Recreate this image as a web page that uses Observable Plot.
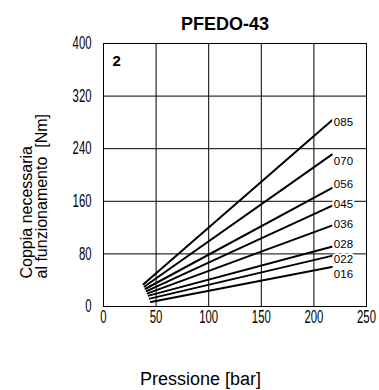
<!DOCTYPE html>
<html>
<head>
<meta charset="utf-8">
<script src="https://cdn.jsdelivr.net/npm/d3@7"></script>
<script src="https://cdn.jsdelivr.net/npm/@observablehq/plot@0.6"></script>
<style>
  html, body { margin: 0; padding: 0; background: #fff; }
  svg text { white-space: pre; }
</style>
</head>
<body>
<div id="chart"></div>
<script>
const series = ["085", "070", "056", "045", "036", "028", "022", "016"];
const xStart = [38, 39, 40, 41, 42, 43, 44, 45];
const yStart = [34, 30.5, 27, 23.5, 20, 16.5, 12, 7];
const xEnd   = [217, 217, 217, 217, 217, 217, 217, 217];
const yEnd   = [283, 231, 180, 153, 123, 91, 77, 60];
const labelX = [218, 218, 218, 218, 218, 218, 218, 218];
const labelY = [280, 221, 186, 155, 125, 94.5, 71.5, 49];
const xTicks = [0, 50, 100, 150, 200, 250];
const yTicks = [0, 80, 160, 240, 320, 400];
const title = "PFEDO-43";
const panel = "2";
const xLabel = "Pressione [bar]";
const yLabel = "Coppia necessaria\nal funzionamento\u00a0 [Nm]";

const lineData = series.flatMap((s, i) => [
  {s, x: xStart[i], y: yStart[i]},
  {s, x: xEnd[i], y: yEnd[i]}
]);
const labelData = series.map((s, i) => ({s, x: labelX[i], y: labelY[i]}));

const sans = "'Liberation Sans', Arial, sans-serif";

const chart = Plot.plot({
  width: 379,
  height: 390,
  marginTop: 43,
  marginBottom: 84,
  marginLeft: 103,
  marginRight: 13,
  style: {background: "#fff", color: "#000"},
  x: {domain: [0, 250], ticks: xTicks},
  y: {domain: [0, 400], ticks: yTicks},
  marks: [
    Plot.gridX(xTicks, {stroke: "#000", strokeOpacity: 1, strokeWidth: 1}),
    Plot.gridY(yTicks, {stroke: "#000", strokeOpacity: 1, strokeWidth: 1}),
    Plot.frame({stroke: "#000", strokeWidth: 1}),
    Plot.axisX(xTicks, {tickSize: 0, tickPadding: 4, fontSize: 18, fontFamily: sans, label: null}),
    Plot.axisY(yTicks, {tickSize: 0, tickPadding: 12, fontSize: 18, fontFamily: sans, label: null}),
    Plot.line(lineData, {x: "x", y: "y", z: "s", stroke: "#000", strokeWidth: 2}),
    Plot.text(labelData, {x: "x", y: "y", text: "s", textAnchor: "start", dx: 1, fontSize: 11.5, fontFamily: sans, fill: "#000", stroke: "#fff", strokeWidth: 4}),
    Plot.text([title], {frameAnchor: "top", dx: -10, dy: -14, lineAnchor: "bottom", fontSize: 18, fontWeight: "bold", fontFamily: sans, fill: "#000"}),
    Plot.text([panel], {frameAnchor: "top-left", dx: 9, dy: 17.5, textAnchor: "start", lineAnchor: "middle", fontSize: 15, fontWeight: "bold", fontFamily: sans, fill: "#000"}),
    Plot.text([yLabel], {frameAnchor: "bottom-left", dx: -68.5, dy: -28, rotate: -90, textAnchor: "start", lineAnchor: "middle", lineHeight: 0.94, fontSize: 16, fontFamily: sans, fill: "#000"}),
    Plot.text([xLabel], {frameAnchor: "bottom", dx: -34.5, dy: 73, lineAnchor: "middle", fontSize: 18, fontFamily: sans, fill: "#000"})
  ]
});

// condense the tick label digits (the reference uses a narrow DIN-like face)
const tickLabels = new Set([...xTicks, ...yTicks].map(String));
chart.querySelectorAll("text").forEach(t => {
  if (!tickLabels.has(t.textContent)) return;
  const tr = t.getAttribute("transform");
  if (tr) {
    t.setAttribute("transform", tr + " scale(0.63,1)");
  } else {
    const x = t.getAttribute("x") || 0, y = t.getAttribute("y") || 0;
    t.removeAttribute("x"); t.removeAttribute("y");
    t.setAttribute("transform", `translate(${x},${y}) scale(0.63,1)`);
  }
  t.setAttribute("font-weight", "300");
});
document.getElementById("chart").appendChild(chart);
</script>
</body>
</html>
